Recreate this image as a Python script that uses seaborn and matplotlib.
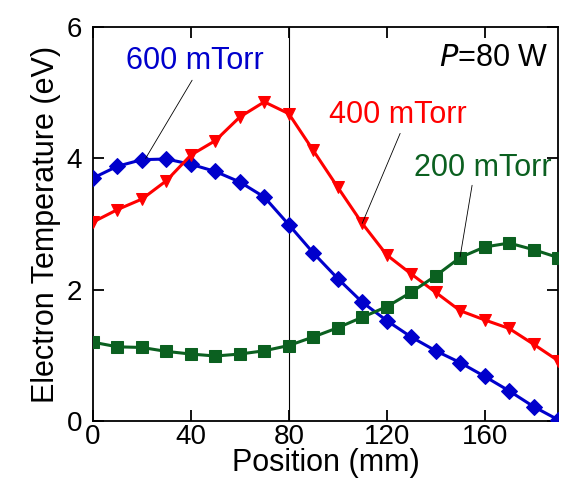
import numpy as np
import pandas as pd
import matplotlib
matplotlib.use("Agg")
import matplotlib.pyplot as plt
import seaborn as sns

position = list(range(0, 200, 10))
te_600 = [3.70, 3.88, 3.98, 3.99, 3.91, 3.80, 3.64, 3.41, 2.99, 2.56, 2.17, 1.81,
          1.53, 1.28, 1.07, 0.89, 0.68, 0.46, 0.22, 0.02]
te_400 = [3.03, 3.22, 3.38, 3.66, 4.05, 4.27, 4.63, 4.86, 4.68, 4.12, 3.56, 3.01,
          2.53, 2.24, 1.96, 1.68, 1.54, 1.41, 1.17, 0.92]
te_200 = [1.20, 1.13, 1.12, 1.06, 1.02, 0.99, 1.02, 1.07, 1.15, 1.28, 1.42, 1.58,
          1.74, 1.96, 2.21, 2.49, 2.65, 2.71, 2.61, 2.49]
labels = ["600 mTorr", "400 mTorr", "200 mTorr"]
colors = ["#0000CC", "#FF0000", "#0B6020"]
markers = ["D", "v", "s"]
msizes = [8.5, 9, 9]

sns.set_style("ticks")
plt.rcParams['font.family'] = ['Liberation Sans', 'DejaVu Sans']
plt.rcParams.update({"text.color": "black", "axes.labelcolor": "black",
                     "xtick.color": "black", "ytick.color": "black",
                     "axes.edgecolor": "black"})

fig = plt.figure(figsize=(5.65, 4.86), dpi=100)
ax = fig.add_axes([0.1646, 0.1337, 0.8230, 0.8107])

for lab, vals, c, m, ms in zip(labels, [te_600, te_400, te_200], colors, markers, msizes):
    df = pd.DataFrame({"Position": position, "Te": vals})
    sns.lineplot(data=df, x="Position", y="Te", ax=ax, color=c, marker=m,
                 markersize=ms, markeredgecolor=c, linewidth=2.2, zorder=3)

ax.axvline(80, color="black", lw=0.8, zorder=1)

ax.set_xlim(0, 190)
ax.set_ylim(0, 6)
ax.set_xticks([0, 40, 80, 120, 160])
ax.set_yticks([0, 2, 4, 6])
ax.tick_params(direction="in", length=8, width=1.3, labelsize=20, pad=2,
               colors="black", top=True, right=True, labeltop=False, labelright=False)
ax.tick_params(axis="y", pad=8)
for s in ax.spines.values():
    s.set_linewidth(1.3)
    s.set_color("black")
ax.set_xlabel("Position (mm)", fontsize=22, labelpad=-1, color="black")
ax.set_ylabel("Electron Temperature (eV)", fontsize=22, labelpad=4, color="black")

lp = dict(arrowstyle="-", color="black", lw=0.6, shrinkA=0, shrinkB=0)
ax.annotate("", xy=(21.5, 4.0), xytext=(40.5, 5.19), arrowprops=lp, zorder=4)
ax.annotate("", xy=(110, 3.01), xytext=(125.5, 4.38), arrowprops=lp, zorder=4)
ax.annotate("", xy=(150, 2.50), xytext=(154.9, 3.59), arrowprops=lp, zorder=4)

ax.text(41.7, 5.49, labels[0], color=colors[0], fontsize=22, ha="center", va="center")
ax.text(124.6, 4.66, labels[1], color=colors[1], fontsize=22, ha="center", va="center")
ax.text(159.4, 3.85, labels[2], color=colors[2], fontsize=22, ha="center", va="center")
ax.text(186, 5.53, r"$\it{P}$=80 W", color="black", fontsize=22, ha="right", va="center")

fig.savefig("out.png", dpi=100)
